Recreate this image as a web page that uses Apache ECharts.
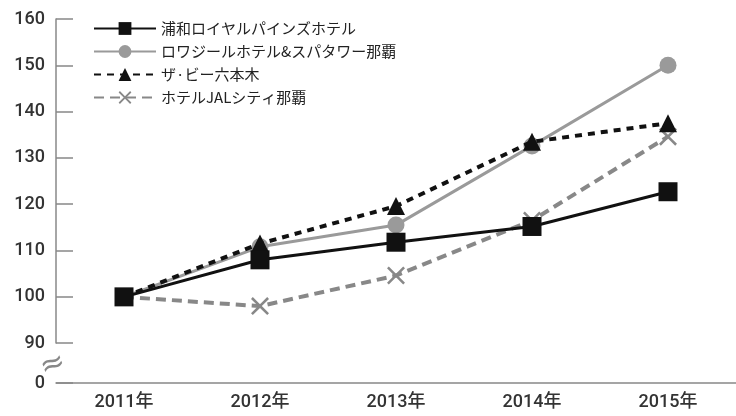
<!DOCTYPE html>
<html><head><meta charset="utf-8">
<script src="https://cdn.jsdelivr.net/npm/echarts@6/dist/echarts.min.js"></script>
<style>html,body{margin:0;padding:0;background:#fff}#c{width:736px;height:416px}</style>
</head><body><div id="c"></div>
<script>
const categories = ['2011年','2012年','2013年','2014年','2015年'];
const seriesNames = ['浦和ロイヤルパインズホテル','ロワジールホテル&スパタワー那覇','ザ·ビー六本木','ホテルJALシティ那覇'];
const urawa = [100, 108, 111.8, 115.2, 122.7];
const loisir = [100, 110.8, 115.5, 132.6, 150];
const theB = [100, 111.5, 119.6, 133.5, 137.5];
const jal = [100, 98, 104.6, 116.5, 134.6];

const font = 'Roboto,"Noto Sans CJK JP",sans-serif';
const xPath = 'path://M2,0 L10,8 L18,0 L20,2 L12,10 L20,18 L18,20 L10,12 L2,20 L0,18 L8,10 L0,2 Z';
const chart = echarts.init(document.getElementById('c'));
chart.setOption({
  animation:false,
  backgroundColor:'#fff',
  legend:{
    left:88, top:16, orient:'vertical', itemGap:8, itemWidth:62, itemHeight:16,
    textStyle:{fontFamily:'"Noto Sans CJK JP",sans-serif', fontSize:15, color:'#222'},
    data:seriesNames
  },
  grid:{left:56, top:19, width:692, height:364, containLabel:false},
  xAxis:{type:'category', data:categories, boundaryGap:true,
    axisLine:{lineStyle:{color:'#888', width:1.5}}, axisTick:{show:false},
    axisLabel:{fontFamily:font, fontSize:18, fontWeight:500, color:'#333', margin:11}},
  yAxis:{type:'value', min:0, max:160, interval:10,
    breaks:[{start:0, end:90, gap:8.6}],
    breakArea:{show:false},
    splitLine:{show:false},
    axisLine:{show:true, lineStyle:{color:'#888', width:1.5}},
    axisTick:{show:true, inside:true, length:17, lineStyle:{color:'#888', width:1.5}},
    axisLabel:{fontFamily:font, fontSize:18, fontWeight:500, color:'#333', margin:11, hideOverlap:false}},
  series:[
    {name:seriesNames[0], type:'line', data:urawa, z:5, symbol:'rect', symbolSize:19,
      lineStyle:{color:'#111', width:3}, itemStyle:{color:'#111'}},
    {name:seriesNames[1], type:'line', data:loisir, z:3, symbol:'circle', symbolSize:17,
      lineStyle:{color:'#9a9a9a', width:3}, itemStyle:{color:'#9a9a9a'}},
    {name:seriesNames[2], type:'line', data:theB, z:4, symbol:'triangle', symbolSize:18,
      lineStyle:{color:'#111', width:4, type:[7,6]}, itemStyle:{color:'#111'}},
    {name:seriesNames[3], type:'line', data:jal, z:2, symbol:xPath, symbolSize:18,
      lineStyle:{color:'#888', width:4, type:[10,6]}, itemStyle:{color:'#888'}}
  ]
});
const y90 = chart.convertToPixel({yAxisIndex:0}, 90);
const y0 = chart.convertToPixel({yAxisIndex:0}, 0);
const axisX = chart.convertToPixel({xAxisIndex:0}, 0) - 69;
chart.setOption({graphic:[{type:'text', x:axisX - 2, y:(y90 + y0)/2 + 2,
  style:{text:'≈', fontSize:30, fill:'#888', fontFamily:'"DejaVu Sans",sans-serif', align:'center', verticalAlign:'middle'}, rotation:0.35, z:10}]});
</script></body></html>
